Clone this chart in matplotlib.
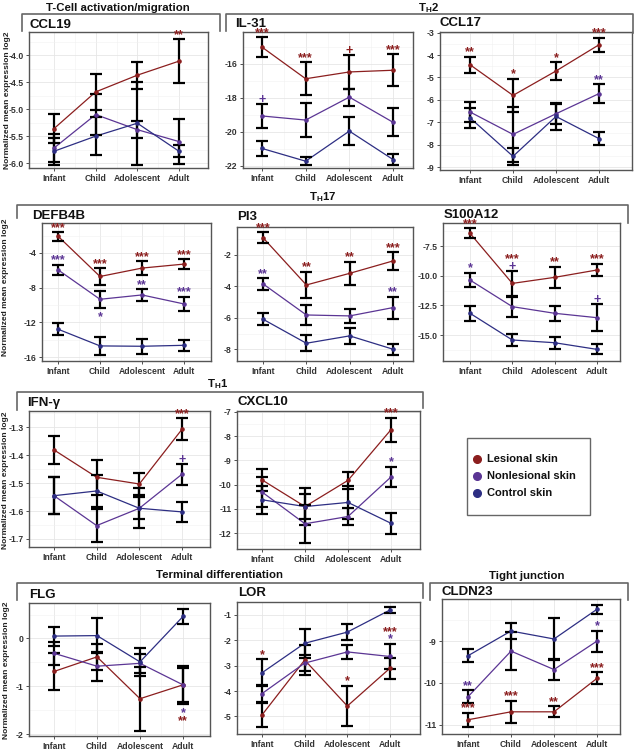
import matplotlib
matplotlib.use("Agg")
import matplotlib.pyplot as plt
from matplotlib.lines import Line2D
from matplotlib.patches import Rectangle
from matplotlib.ticker import FixedLocator, FormatStrFormatter

plt.rcParams['font.family'] = ['Liberation Sans', 'DejaVu Sans']
plt.rcParams['font.weight'] = 'bold'
plt.rcParams['axes.unicode_minus'] = False
plt.rcParams['mathtext.fontset'] = 'custom'
plt.rcParams['mathtext.bf'] = 'Liberation Sans:bold'
plt.rcParams['mathtext.rm'] = 'Liberation Sans:bold'

W, H = 639, 750

ages = ["Infant", "Child", "Adolescent", "Adult"]
groups = ["Lesional skin", "Nonlesional skin", "Control skin"]
colors = ["#8b1e1e", "#5b3594", "#2d2e83"]

# mean log2 expression, rows = lesional, nonlesional, control
ccl19_mean = [[-5.36, -4.68, -4.37, -4.11], [-5.72, -5.10, -5.38, -5.60], [-5.78, -5.50, -5.26, -5.78]]
ccl19_err = [[0.27, 0.34, 0.25, 0.41], [0.26, 0.38, 0.16, 0.42], [0.25, 0.35, 0.77, 0.11]]
il31_mean = [[-15.01, -16.87, -16.47, -16.37], [-19.06, -19.30, -17.95, -19.43], [-20.97, -21.72, -19.95, -21.62]]
il31_err = [[0.57, 0.96, 1.00, 0.94], [0.69, 1.00, 0.50, 0.82], [0.45, 0.23, 0.82, 0.30]]
ccl17_mean = [[-4.43, -5.80, -4.71, -3.54], [-6.54, -7.54, -6.62, -5.72], [-6.80, -8.52, -6.74, -7.73]]
ccl17_err = [[0.36, 0.75, 0.40, 0.31], [0.43, 1.22, 0.45, 0.43], [0.45, 0.37, 0.60, 0.30]]
defb4b_mean = [[-2.06, -6.71, -5.74, -5.28], [-5.94, -9.34, -8.84, -9.88], [-12.79, -14.72, -14.76, -14.65]]
defb4b_err = [[0.50, 0.97, 0.77, 0.55], [0.60, 1.00, 0.68, 0.83], [0.72, 1.00, 0.85, 0.63]]
pi3_mean = [[-0.90, -3.91, -3.17, -2.38], [-3.84, -5.82, -5.88, -5.35], [-6.09, -7.62, -7.15, -8.00]]
pi3_err = [[0.34, 0.85, 0.75, 0.55], [0.37, 0.64, 0.43, 0.70], [0.37, 0.50, 0.50, 0.34]]
s100a12_mean = [[-6.43, -10.65, -10.14, -9.52], [-10.37, -12.61, -13.17, -13.54], [-13.17, -15.42, -15.65, -16.21]]
s100a12_err = [[0.42, 1.07, 0.90, 0.53], [0.62, 0.85, 0.65, 1.15], [0.63, 0.48, 0.49, 0.42]]
ifng_mean = [[-1.381, -1.479, -1.503, -1.307], [-1.545, -1.652, -1.590, -1.468], [-1.545, -1.528, -1.590, -1.603]]
ifng_err = [[0.050, 0.063, 0.040, 0.040], [0.067, 0.058, 0.072, 0.037], [0.067, 0.058, 0.040, 0.035]]
cxcl10_mean = [[-9.80, -10.90, -9.82, -7.73], [-10.30, -11.61, -11.31, -9.68], [-10.62, -10.90, -10.73, -11.59]]
cxcl10_err = [[0.45, 0.76, 0.35, 0.50], [0.60, 0.78, 0.35, 0.42], [0.58, 0.50, 0.69, 0.44]]
flg_mean = [[-0.69, -0.385, -1.26, -0.97], [-0.31, -0.58, -0.52, -0.97], [0.05, 0.06, -0.49, 0.46]]
flg_err = [[0.38, 0.27, 0.67, 0.35], [0.24, 0.30, 0.20, 0.40], [0.20, 0.37, 0.30, 0.16]]
lor_mean = [[-4.94, -2.78, -4.59, -3.10], [-4.10, -2.90, -2.46, -2.64], [-3.28, -2.12, -1.68, -0.81]]
lor_err = [[0.48, 0.60, 0.80, 0.42], [0.35, 0.32, 0.26, 0.50], [0.54, 0.57, 0.30, 0.13]]
cldn23_mean = [[-10.88, -10.69, -10.69, -9.89], [-10.33, -9.24, -9.68, -9.00], [-9.35, -8.76, -8.95, -8.24]]
cldn23_err = [[0.17, 0.27, 0.13, 0.14], [0.16, 0.45, 0.24, 0.25], [0.16, 0.20, 0.50, 0.11]]

# significance marks: (gene, series, age index, label, anchor series, side, stack level)
stars = [
    ("CCL19", 0, 3, "**", 0, "up", 0),
    ("IL-31", 0, 0, "***", 0, "up", 0), ("IL-31", 1, 0, "+", 1, "up", 0),
    ("IL-31", 0, 1, "***", 0, "up", 0), ("IL-31", 0, 2, "+", 0, "up", 0),
    ("IL-31", 0, 3, "***", 0, "up", 0),
    ("CCL17", 0, 0, "**", 0, "up", 0), ("CCL17", 0, 1, "*", 0, "up", 0),
    ("CCL17", 0, 2, "*", 0, "up", 0), ("CCL17", 0, 3, "***", 0, "up", 0),
    ("CCL17", 1, 3, "**", 1, "up", 0),
    ("DEFB4B", 0, 0, "***", 0, "up", 0), ("DEFB4B", 1, 0, "***", 1, "up", 0),
    ("DEFB4B", 0, 1, "***", 0, "up", 0), ("DEFB4B", 1, 1, "*", 1, "down", 0),
    ("DEFB4B", 0, 2, "***", 0, "up", 0), ("DEFB4B", 1, 2, "**", 1, "up", 0),
    ("DEFB4B", 0, 3, "***", 0, "up", 0), ("DEFB4B", 1, 3, "***", 1, "up", 0),
    ("PI3", 0, 0, "***", 0, "up", 0), ("PI3", 1, 0, "**", 1, "up", 0),
    ("PI3", 0, 1, "**", 0, "up", 0), ("PI3", 0, 2, "**", 0, "up", 0),
    ("PI3", 0, 3, "***", 0, "up", 0), ("PI3", 1, 3, "**", 1, "up", 0),
    ("S100A12", 0, 0, "***", 0, "up", 0), ("S100A12", 1, 0, "*", 1, "up", 0),
    ("S100A12", 1, 1, "+", 0, "up", 0), ("S100A12", 0, 1, "***", 0, "up", 1),
    ("S100A12", 0, 2, "**", 0, "up", 0), ("S100A12", 0, 3, "***", 0, "up", 0),
    ("S100A12", 1, 3, "+", 1, "up", 0),
    ("IFN-γ", 0, 3, "***", 0, "up", 0), ("IFN-γ", 1, 3, "+", 1, "up", 0),
    ("CXCL10", 0, 3, "***", 0, "up", 0), ("CXCL10", 1, 3, "*", 1, "up", 0),
    ("FLG", 1, 3, "*", 1, "down", 0), ("FLG", 0, 3, "**", 1, "down", 1),
    ("LOR", 0, 0, "*", 2, "up", 0), ("LOR", 0, 2, "*", 0, "up", 0),
    ("LOR", 1, 3, "*", 1, "up", 0), ("LOR", 0, 3, "***", 1, "up", 1),
    ("CLDN23", 1, 0, "**", 1, "up", 0), ("CLDN23", 0, 0, "***", 0, "up", 0),
    ("CLDN23", 0, 1, "***", 0, "up", 0), ("CLDN23", 0, 2, "**", 0, "up", 0),
    ("CLDN23", 1, 3, "*", 1, "up", 0), ("CLDN23", 0, 3, "***", 0, "up", 0),
]

# layout in pixels: frame (l, t, r, b), infant/adult x, ylim, yticks, tick format, title pos
panels = [
    ("CCL19", ccl19_mean, ccl19_err, (29, 32, 208, 168), (54, 179), (-6.09, -3.57), [-6.0, -5.5, -5.0, -4.5, -4.0], "%.1f", (30, 25)),
    ("IL-31", il31_mean, il31_err, (243, 32, 413, 168), (262, 393), (-22.12, -14.12), [-22, -20, -18, -16], "%d", (235, 24)),
    ("CCL17", ccl17_mean, ccl17_err, (440, 32, 632, 170), (470, 599), (-9.13, -2.97), [-9, -8, -7, -6, -5, -4, -3], "%d", (440, 23)),
    ("DEFB4B", defb4b_mean, defb4b_err, (42, 223, 211, 361), (58, 184), (-16.46, -0.54), [-16, -12, -8, -4], "%d", (32, 216)),
    ("PI3", pi3_mean, pi3_err, (237, 227, 413, 361), (263, 393), (-8.75, -0.22), [-8, -6, -4, -2], "%d", (237, 217)),
    ("S100A12", s100a12_mean, s100a12_err, (443, 223, 620, 361), (470, 597), (-17.19, -5.56), [-15.0, -12.5, -10.0, -7.5], "%.1f", (444, 215)),
    ("IFN-γ", ifng_mean, ifng_err, (29, 411, 210, 547), (54, 182), (-1.7287, -1.2416), [-1.7, -1.6, -1.5, -1.4, -1.3], "%.1f", (27, 403)),
    ("CXCL10", cxcl10_mean, cxcl10_err, (237, 411, 420, 549), (262, 391), (-12.65, -6.96), [-12, -11, -10, -9, -8, -7], "%d", (237, 402)),
    ("FLG", flg_mean, flg_err, (29, 603, 210, 736), (54, 183), (-2.04, 0.742), [-2, -1, 0], "%d", (29, 595)),
    ("LOR", lor_mean, lor_err, (237, 602, 420, 734), (262, 390), (-5.69, -0.496), [-5, -4, -3, -2, -1], "%d", (238, 593)),
    ("CLDN23", cldn23_mean, cldn23_err, (442, 599, 620, 734), (468, 597), (-11.22, -7.995), [-11, -10, -9], "%d", (442, 592)),
]

# group brackets: title, title (x, y), x0, x1, top y, bottom y left, bottom y right
brackets = [
    ("T-Cell activation/migration", (118, 8), 22, 220, 14, 31, 31),
    (r"$\mathbf{T_{H}2}$", (428, 8), 226, 633, 14, 31, 33),
    (r"$\mathbf{T_{H}17}$", (323, 197), 17, 628, 205, 218, 223),
    (r"$\mathbf{T_{H}1}$", (218, 384), 17, 423, 392, 410, 408),
    ("Terminal differentiation", (220, 575), 17, 423, 583, 600, 598),
    ("Tight junction", (527, 576), 430, 628, 583, 600, 600),
]
ylabel_pos = [(8, 100), (6, 287), (6, 480), (7, 670)]

fig = plt.figure(figsize=(W / 100, H / 100), dpi=100)


def fx(x):
    return x / W


def fy(y):
    return 1 - y / H


for gene, mean, err, (l, t, r, b), (xi, xa), ylim, yt, fmt, (tx, ty) in panels:
    ax = fig.add_axes([fx(l), fy(b), (r - l) / W, (b - t) / H])
    sp = (xa - xi) / 3
    ax.set_xlim(1 - (xi - l) / sp, 4 + (r - xa) / sp)
    ax.set_ylim(*ylim)
    xs = [1, 2, 3, 4]
    for k in range(3):
        ax.plot(xs, mean[k], color=colors[k], lw=0.9, zorder=3)
        ax.errorbar(xs, mean[k], yerr=err[k], fmt='none', ecolor='black',
                    elinewidth=1.6, capsize=4.0, capthick=1.6, zorder=4)
        ax.plot(xs, mean[k], ls='none', marker='o', ms=2.3, color=colors[k], zorder=5)
    ax.set_xticks(xs)
    ax.set_xticklabels(ages)
    ax.yaxis.set_major_locator(FixedLocator(yt))
    ax.yaxis.set_major_formatter(FormatStrFormatter(fmt))
    step = yt[1] - yt[0]
    minors = [yt[0] - step / 2] + [v + step / 2 for v in yt]
    ax.yaxis.set_minor_locator(FixedLocator(minors))
    ax.xaxis.set_minor_locator(FixedLocator([1.5, 2.5, 3.5]))
    ax.grid(which='major', color='#e6e6e6', lw=0.6)
    ax.grid(which='minor', color='#f1f1f1', lw=0.4)
    ax.set_axisbelow(True)
    ax.tick_params(which='major', labelsize=6.2, colors='#333333', length=2.5, width=0.6, pad=1.5)
    ax.tick_params(which='minor', length=0)
    for sp_ in ax.spines.values():
        sp_.set_color('#555555')
        sp_.set_linewidth(1.0)
    fig.text(fx(tx), fy(ty), gene, fontsize=9.5, fontweight='bold', ha='left', va='center', color='#111111')

    for g, s, i, lab, a, side, lvl in stars:
        if g != gene:
            continue
        if side == "up":
            yv = mean[a][i] + err[a][i]
            off = 3.0 + 5.5 * lvl
        else:
            yv = mean[a][i] - err[a][i]
            off = -6.5 - 6.0 * lvl
        ax.annotate(lab, (i + 1, yv), xytext=(0, off), textcoords='offset points',
                    ha='center', va='center', fontsize=9, color=colors[s],
                    fontweight='bold', zorder=6, annotation_clip=False)

for title, (tx, ty), x0, x1, ytop, yb0, yb1 in brackets:
    fig.add_artist(Line2D([fx(x0), fx(x0), fx(x1), fx(x1)], [fy(yb0), fy(ytop), fy(ytop), fy(yb1)],
                          transform=fig.transFigure, color='#666666', lw=1.2))
    fig.text(fx(tx), fy(ty), title, fontsize=8.2, fontweight='bold', ha='center', va='center', color='#111111')

for x, y in ylabel_pos:
    fig.text(fx(x), fy(y), "Normalized mean expression log2", rotation=90, fontsize=6,
             fontweight='bold', ha='center', va='center', color='#222222')

# legend box drawn by hand to match the original placement
fig.add_artist(Rectangle((fx(467), fy(515)), 123 / W, 77 / H, transform=fig.transFigure,
                         facecolor='white', edgecolor='#666666', lw=1.0))
for k, name in enumerate(groups):
    yk = fy(459 + 17 * k)
    fig.add_artist(Line2D([fx(477)], [yk], transform=fig.transFigure, ls='none',
                          marker='o', ms=5.5, color=colors[k]))
    fig.text(fx(487), yk, name, fontsize=8, fontweight='bold', ha='left', va='center', color='#111111')

fig.savefig("out.png", dpi=100)
